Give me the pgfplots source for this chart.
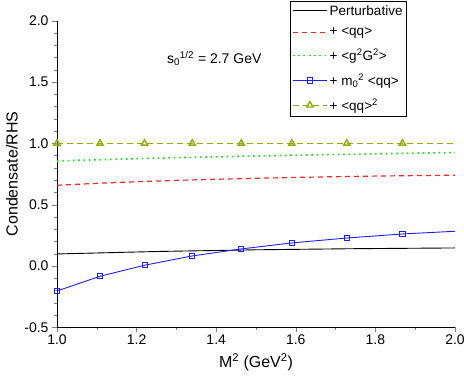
\documentclass[border=0pt]{standalone}
\usepackage{fontspec}
\setmainfont{Liberation Sans}
\usepackage{pgfplots}
\pgfplotsset{compat=1.18}
\definecolor{cred}{RGB}{250,40,40}
\definecolor{cgreen}{RGB}{30,230,30}
\definecolor{cblue}{RGB}{30,30,250}
\definecolor{colive}{RGB}{140,175,0}
\begin{document}
\begin{tikzpicture}
\begin{axis}[
    name=ax,
    scale only axis,
    width=398pt, height=306.6pt,
    xmin=1, xmax=2, ymin=-0.5, ymax=2,
    axis lines=left,
    axis line style={-},
    tick align=outside,
    xtick={1,1.2,1.4,1.6,1.8,2},
    ytick={-0.5,0,0.5,1,1.5,2},
    minor x tick num=1,
    minor y tick num=4,
    major tick length=5pt,
    minor tick length=3pt,
    tick label style={font=\fontsize{14}{16}\selectfont},
    xticklabel style={yshift=1pt},
    /pgf/number format/.cd, fixed, fixed zerofill, precision=1, assume math mode=true,
    /pgfplots/.cd,
    xlabel={M\textsuperscript{2} (GeV\textsuperscript{2})},
    ylabel={Condensate/RHS},
    label style={font=\fontsize{16}{18}\selectfont},
    xlabel style={at={(axis description cs:0.5,0)}, anchor=center, yshift=-35pt},
    ylabel style={at={(axis description cs:-0.113,0.5)}, anchor=center},
    legend style={at={(0.585,1.064)}, anchor=north west, draw=black,
        font=\fontsize{13.5}{15}\selectfont, row sep=7.5pt, inner sep=2pt},
    legend cell align=left,
    legend image code/.code={
        \draw[#1, mark indices={2}] plot coordinates {(0pt,0pt)(17pt,0pt)(34pt,0pt)};},
    ]
    \addplot[draw=black, line width=0.9pt] coordinates {
        (1.0,0.098)(1.25,0.118)(1.5,0.132)(1.75,0.141)(2.0,0.147)};
    \addlegendentry{Perturbative}
    \addplot[draw=cred, line width=1.2pt, dash pattern=on 5pt off 4pt] coordinates {
        (1.0,0.658)(1.1,0.674)(1.2,0.687)(1.3,0.698)(1.4,0.707)(1.5,0.715)
        (1.6,0.722)(1.7,0.728)(1.8,0.733)(1.9,0.737)(2.0,0.740)};
    \addlegendentry{+ <qq>}
    \addplot[draw=cgreen, line width=1.7pt, dash pattern=on 1.7pt off 3.6pt] coordinates {
        (1.0,0.856)(1.1,0.866)(1.2,0.875)(1.3,0.883)(1.4,0.890)(1.5,0.897)
        (1.6,0.903)(1.7,0.909)(1.8,0.914)(1.9,0.920)(2.0,0.925)};
    \addlegendentry{+ <g\textsuperscript{2}G\textsuperscript{2}>}
    \addplot[draw=cblue, line width=0.9pt, mark=square, mark size=2.6pt,
        mark options={solid, draw=cblue, fill=white}, mark indices={1,2,3,4,5,6,7,8}] coordinates {
        (1.0,-0.204)(1.108,-0.084)(1.22,0.006)(1.34,0.082)(1.463,0.139)
        (1.59,0.188)(1.728,0.228)(1.868,0.261)(2.0,0.283)};
    \addlegendentry{+ m\textsubscript{0}\textsuperscript{2} <qq>}
    \addplot[draw=colive, line width=1.4pt, dash pattern=on 6pt off 4pt, mark=triangle,
        mark size=3.6pt, mark options={solid, draw=colive, fill=white}, mark indices={1,2,3,4,5,6,7,8}] coordinates {
        (1.0,1)(1.108,1)(1.22,1)(1.34,1)(1.463,1)(1.59,1)(1.728,1)(1.868,1)(2.0,1)};
    \addlegendentry{+ <qq>\textsuperscript{2}}
    \node[anchor=west, inner sep=0pt, font=\fontsize{14}{16}\selectfont] at (axis cs:1.276,1.694)
        {s\textsubscript{0}\textsuperscript{1/2} = 2.7 GeV};
\end{axis}
\pgfresetboundingbox
\path ([xshift=-57pt,yshift=-54.7pt]ax.south west) rectangle ([xshift=9pt,yshift=20.7pt]ax.north east);
\end{tikzpicture}
\end{document}
